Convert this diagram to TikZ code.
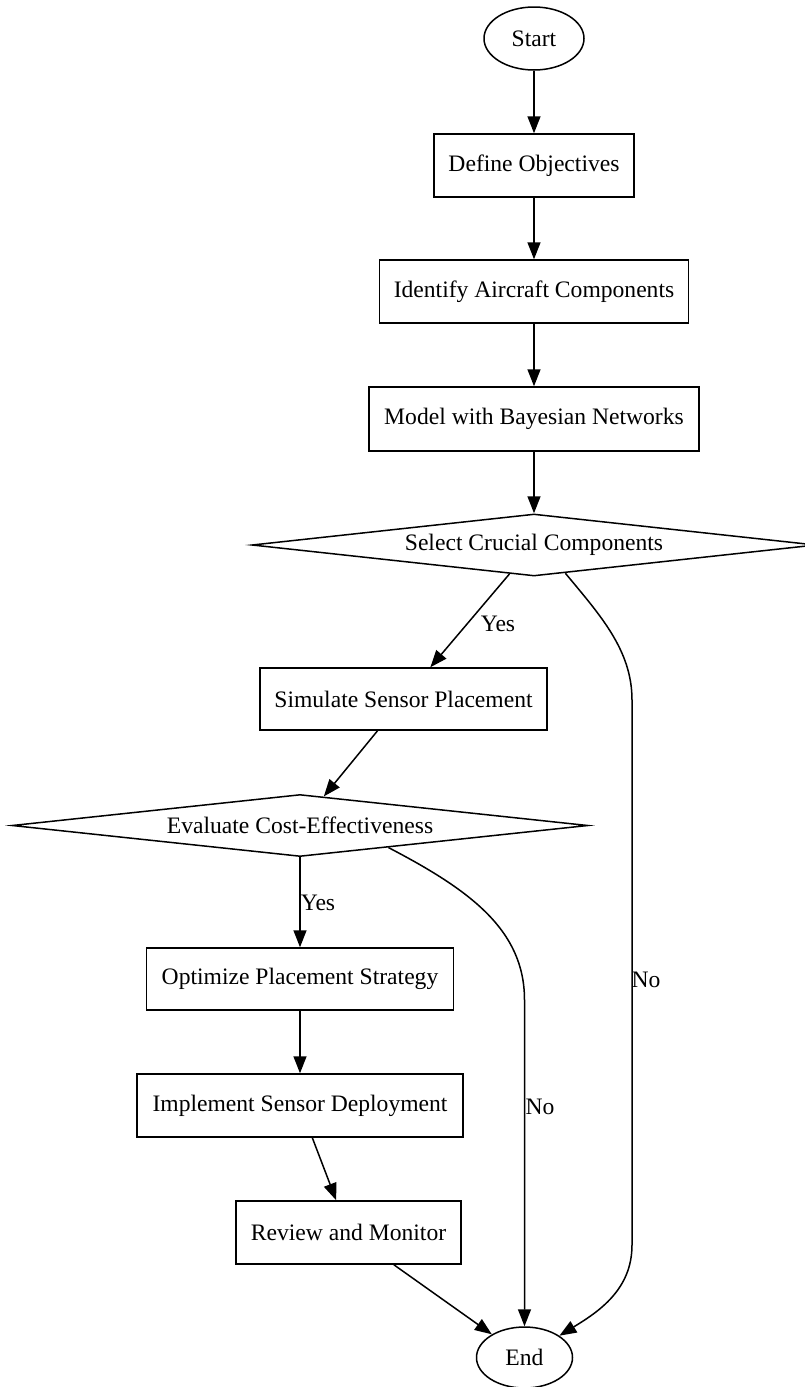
\documentclass[tikz,border=0pt]{standalone}
\usepackage{fontspec}
\setmainfont{Liberation Serif}
\usetikzlibrary{shapes.geometric,arrows.meta}
\begin{document}
\begin{tikzpicture}[x=1pt,y=-1pt,
  every node/.style={font=\fontsize{23.6}{28}\selectfont},
  proc/.style={draw, line width=1.5pt, rectangle, minimum height=63pt, inner sep=0pt},
  term/.style={draw, line width=1.5pt, ellipse, inner sep=0pt},
  dec/.style={draw, line width=1.5pt, diamond, inner sep=0pt, minimum height=62pt},
  conn/.style={line width=1.5pt, -{Triangle[length=17pt,width=13pt]}},
  lbl/.style={inner sep=0pt}]
\useasboundingbox (0,0) rectangle (805,1387);

\node[term, minimum width=100pt, minimum height=63pt] (start) at (534,38.5) {Start};
\node[proc, minimum width=200pt] (def) at (534,165.5) {Define Objectives};
\node[proc, minimum width=309pt] (ident) at (534,291.5) {Identify Aircraft Components};
\node[proc, minimum width=330pt, minimum height=64pt] (model) at (534,419) {Model with Bayesian Networks};
\node[dec, minimum width=564pt, shape aspect=9.1] (sel) at (534,545) {Select Crucial Components};
\node[proc, minimum width=287pt, minimum height=62pt] (sim) at (403.5,699) {Simulate Sensor Placement};
\node[dec, minimum width=576pt, shape aspect=9.3] (eval) at (300,825.5) {Evaluate Cost-Effectiveness};
\node[proc, minimum width=307pt, minimum height=62pt] (opt) at (300,979) {Optimize Placement Strategy};
\node[proc, minimum width=326pt] (imp) at (300,1105.5) {Implement Sensor Deployment};
\node[proc, minimum width=225pt] (rev) at (348.5,1232.5) {Review and Monitor};
\node[term, minimum width=96pt, minimum height=61pt] (end) at (524.5,1357.5) {End};

\draw[conn] (start) -- (def);
\draw[conn] (def) -- (ident);
\draw[conn] (ident) -- (model);
\draw[conn] (model) -- (sel);
\draw[conn] (sel) -- (sim);
\node[lbl] (yesA) at (498,624) {Yes};
\draw[conn] (sim) -- (eval);
\draw[conn] (eval) -- (opt);
\node[lbl] (yesB) at (318,903) {Yes};
\draw[conn] (opt) -- (imp);
\draw[conn] (imp) -- (rev);
\draw[conn] (rev) -- (end);

\coordinate (noA1) at (632,700);
\coordinate (noA2) at (632,1245);
\draw[conn] (sel.-42) .. controls (600,615) and (632,650) .. (noA1) -- (noA2)
  .. controls (632,1290) and (598,1312) .. (end.32);
\node[lbl] (noA) at (646,980) {No};

\coordinate (noB1) at (524.5,1000);
\draw[conn] (eval.-14) .. controls (470,890) and (524.5,930) .. (noB1) -- (end.north);
\node[lbl] (noB) at (540,1107) {No};
\end{tikzpicture}
\end{document}
